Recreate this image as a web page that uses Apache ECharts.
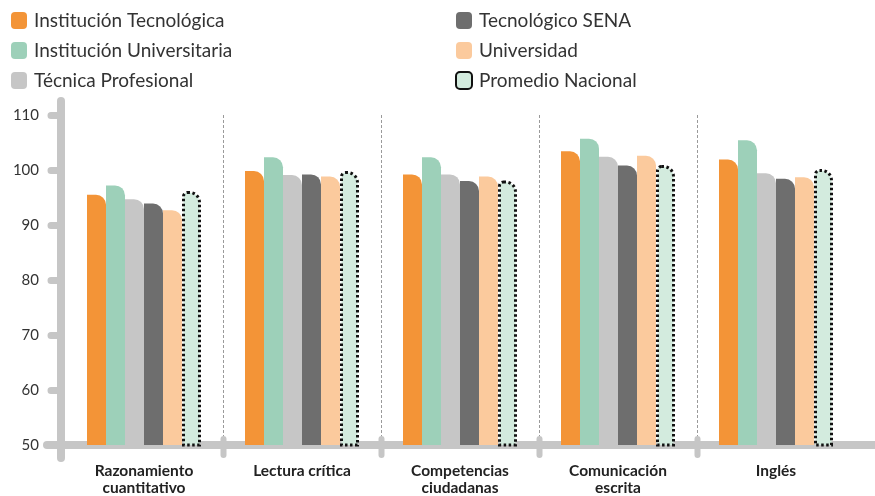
<!DOCTYPE html>
<html>
<head>
<meta charset="utf-8">
<script src="https://cdn.jsdelivr.net/npm/echarts@6/dist/echarts.min.js"></script>
<style>
  html, body { margin: 0; padding: 0; background: #fff; }
  #main { width: 875px; height: 496px; }
</style>
</head>
<body>
<div id="main"></div>
<script>
// categorías y valores
var categories = ['Razonamiento\ncuantitativo', 'Lectura crítica', 'Competencias\nciudadanas', 'Comunicación\nescrita', 'Inglés'];
var yTicks = [50, 60, 70, 80, 90, 100, 110];

var instTecnologica = [95.5, 99.8, 99.2, 103.4, 101.9];
var instUniversitaria = [97.2, 102.3, 102.3, 105.7, 105.4];
var tecnicaProfesional = [94.7, 99.1, 99.2, 102.4, 99.4];
var tecnologicoSena = [93.9, 99.2, 98.0, 100.8, 98.4];
var universidad = [92.7, 98.8, 98.8, 102.6, 98.7];
var promedioNacional = [96.2, 99.8, 98.1, 100.9, 100.2];

var seriesDefs = [
  { name: 'Institución Tecnológica', data: instTecnologica, color: '#f39437' },
  { name: 'Institución Universitaria', data: instUniversitaria, color: '#9dd0b9' },
  { name: 'Técnica Profesional', data: tecnicaProfesional, color: '#c6c6c6' },
  { name: 'Tecnológico SENA', data: tecnologicoSena, color: '#6e6e6e' },
  { name: 'Universidad', data: universidad, color: '#fbca9d' },
  { name: 'Promedio Nacional', data: promedioNacional, color: '#d3ebde', dotted: true }
];

var font = 'Lato, "Open Sans", sans-serif';

var series = seriesDefs.map(function (s) {
  var itemStyle = { color: s.color, borderRadius: [0, 10, 0, 0] };
  if (s.dotted) {
    itemStyle.borderColor = '#111';
    itemStyle.borderWidth = 3;
    itemStyle.borderType = [2.5, 2.5];
    itemStyle.borderRadius = [4, 10, 0, 0];
  }
  return {
    name: s.name,
    type: 'bar',
    barWidth: 19,
    barGap: '0%',
    data: s.data,
    itemStyle: itemStyle
  };
});

var legendCommon = {
  orient: 'vertical',
  top: 6,
  icon: 'roundRect',
  itemWidth: 16,
  itemHeight: 17,
  itemGap: 11,
  textStyle: { fontFamily: font, fontSize: 19, color: '#333', padding: [0, 0, 0, 2] }
};

var option = {
  animation: false,
  backgroundColor: '#fff',
  legend: [
    Object.assign({ left: 6, data: seriesDefs.slice(0, 3).map(function (s) { return s.name; }) }, legendCommon),
    Object.assign({ left: 450, data: seriesDefs.slice(3).map(function (s) { return s.name; }) }, legendCommon)
  ],
  grid: { left: 65, right: 20, top: 115, bottom: 49, containLabel: false },
  xAxis: {
    type: 'category',
    data: categories,
    axisLine: { show: false },
    axisTick: { show: false },
    axisLabel: {
      interval: 0,
      margin: 17,
      fontFamily: font,
      fontSize: 15.5,
      fontWeight: 'bold',
      color: '#222',
      lineHeight: 17
    }
  },
  yAxis: {
    type: 'value',
    min: yTicks[0],
    max: yTicks[yTicks.length - 1],
    interval: 10,
    offset: 4,
    axisLine: { show: false },
    axisTick: { show: true, length: 10, lineStyle: { color: '#c6c6c6', width: 7, cap: 'round' } },
    axisLabel: { margin: 22, fontFamily: font, fontSize: 15, color: '#333' },
    splitLine: { show: false }
  },
  series: series
};

var myChart = echarts.init(document.getElementById('main'));
myChart.setOption(option);

// ejes gruesos y separadores entre categorías
var c0 = myChart.convertToPixel({ xAxisIndex: 0 }, 0);
var c1 = myChart.convertToPixel({ xAxisIndex: 0 }, 1);
var band = c1 - c0;
var yBottom = myChart.convertToPixel({ yAxisIndex: 0 }, yTicks[0]);
var yTop = myChart.convertToPixel({ yAxisIndex: 0 }, yTicks[yTicks.length - 1]);
var axisX = c0 - band / 2 - 4;
var axisStyle = { stroke: '#c6c6c6', lineWidth: 8, lineCap: 'round' };

var graphics = [
  { type: 'line', z: 1, shape: { x1: axisX, y1: yTop - 14, x2: axisX, y2: yBottom + 13 }, style: axisStyle },
  { type: 'line', z: 1, shape: { x1: axisX - 14, y1: yBottom, x2: 880, y2: yBottom }, style: axisStyle }
];
for (var i = 1; i < categories.length; i++) {
  var bx = Math.round(c0 + band * (i - 0.5)) + 0.5;
  graphics.push({ type: 'line', z: 0, shape: { x1: bx, y1: yTop, x2: bx, y2: yBottom },
    style: { stroke: '#9a9a9a', lineWidth: 1, lineDash: [3, 2] } });
  graphics.push({ type: 'line', z: 1, shape: { x1: bx, y1: yBottom - 6, x2: bx, y2: yBottom + 10 },
    style: { stroke: '#c6c6c6', lineWidth: 6, lineCap: 'round' } });
}
myChart.setOption({ graphic: graphics });
</script>
</body>
</html>
